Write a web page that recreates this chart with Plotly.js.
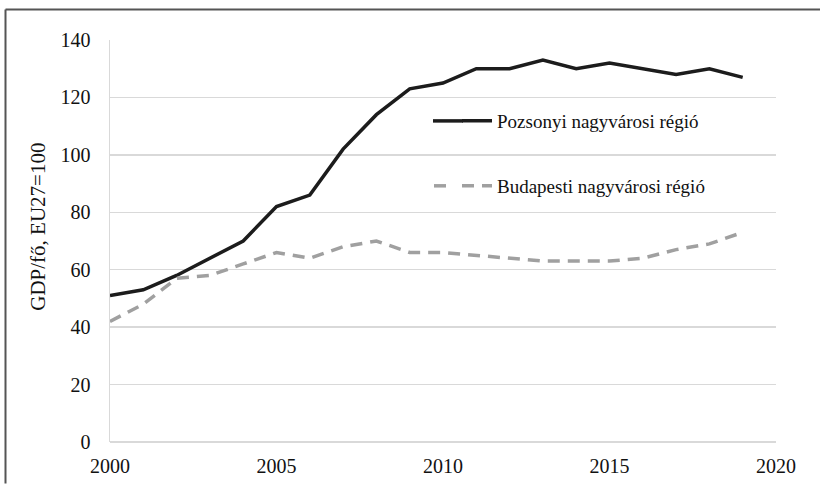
<!DOCTYPE html>
<html>
<head>
<meta charset="utf-8">
<script src="https://cdn.plot.ly/plotly-3.0.1.min.js"></script>
<style>html,body{margin:0;padding:0;background:#fff;}#chart{width:820px;height:484px;}</style>
</head>
<body>
<div id="chart"></div>
<script>
const years = [2000,2001,2002,2003,2004,2005,2006,2007,2008,2009,2010,2011,2012,2013,2014,2015,2016,2017,2018,2019];
const pozsonyi = [51,53,58,64,70,82,86,102,114,123,125,130,130,133,130,132,130,128,130,127];
const budapest = [42,48,57,58,62,66,64,68,70,66,66,65,64,63,63,63,64,67,69,73];
const seriesNames = ["Pozsonyi nagyvárosi régió", "Budapesti nagyvárosi régió"];
const xTicks = [2000,2005,2010,2015,2020];
const yTicks = [0,20,40,60,80,100,120,140];
const yTitle = "GDP/fő, EU27=100";

const FONT = "'Liberation Serif', 'Times New Roman', serif";
const L = 110, R = 44, T = 40, B = 41.5;
const PW = 820 - L - R, PH = 484 - T - B;
const px = x => (x - L) / PW;
const py = y => (484 - B - y) / PH;
const BLACK = '#1c1c1c', GREY = '#a0a0a0';

const traces = [
  {x: years, y: pozsonyi, name: seriesNames[0], type: 'scatter', mode: 'lines',
   line: {color: BLACK, width: 3.5}, legend: 'legend'},
  {x: years, y: budapest, name: seriesNames[1], type: 'scatter', mode: 'lines',
   line: {color: GREY, width: 3.5, dash: '12px,8px'}, legend: 'legend2'}
];

const layout = {
  width: 820, height: 484,
  margin: {l: L, r: R, t: T, b: B},
  paper_bgcolor: '#fff', plot_bgcolor: '#fff',
  font: {family: FONT, size: 20, color: '#111'},
  xaxis: {range: [2000, 2020], tickvals: xTicks, ticktext: xTicks.map(String),
    showgrid: false, zeroline: false, showline: false, ticks: '',
    ticklabelstandoff: 10, tickfont: {family: FONT, size: 20, color: '#111'}},
  yaxis: {range: [0, 140], tickvals: yTicks, ticktext: yTicks.map(String),
    showgrid: true, gridcolor: '#d9d9d9', gridwidth: 1.5,
    zeroline: true, zerolinecolor: '#d9d9d9', zerolinewidth: 1.5,
    showline: true, linecolor: '#d9d9d9', linewidth: 1.5, ticks: '',
    ticklabelstandoff: 14, tickfont: {family: FONT, size: 20, color: '#111'}},
  showlegend: true,
  legend: {x: px(457), y: py(121), xanchor: 'left', yanchor: 'middle',
    bgcolor: 'rgba(0,0,0,0)', font: {family: FONT, size: 19, color: '#111'}},
  legend2: {x: px(457), y: py(186), xanchor: 'left', yanchor: 'middle',
    bgcolor: 'rgba(0,0,0,0)', font: {family: FONT, size: 19, color: '#111'}},
  annotations: [{text: yTitle, xref: 'paper', yref: 'paper', x: px(38), y: py(227),
    xanchor: 'center', yanchor: 'middle', textangle: -90, showarrow: false,
    font: {family: FONT, size: 21, color: '#111'}}],
  shapes: [
    {type: 'line', xref: 'paper', yref: 'paper', x0: px(5.5), x1: px(820), y0: py(9.5), y1: py(9.5),
     line: {color: '#555', width: 2}},
    {type: 'line', xref: 'paper', yref: 'paper', x0: px(5.5), x1: px(5.5), y0: py(9.5), y1: py(484),
     line: {color: '#555', width: 2}},
    // extensions of the legend line samples to the reference's longer key length
    {type: 'line', xref: 'paper', yref: 'paper', x0: px(433), x1: px(463), y0: py(121), y1: py(121),
     line: {color: BLACK, width: 3.5}},
    {type: 'line', xref: 'paper', yref: 'paper', x0: px(434), x1: px(454), y0: py(186), y1: py(186),
     line: {color: GREY, width: 3.5, dash: '12px,8px'}}
  ]
};

Plotly.newPlot('chart', traces, layout, {displayModeBar: false, staticPlot: true});
</script>
</body>
</html>
